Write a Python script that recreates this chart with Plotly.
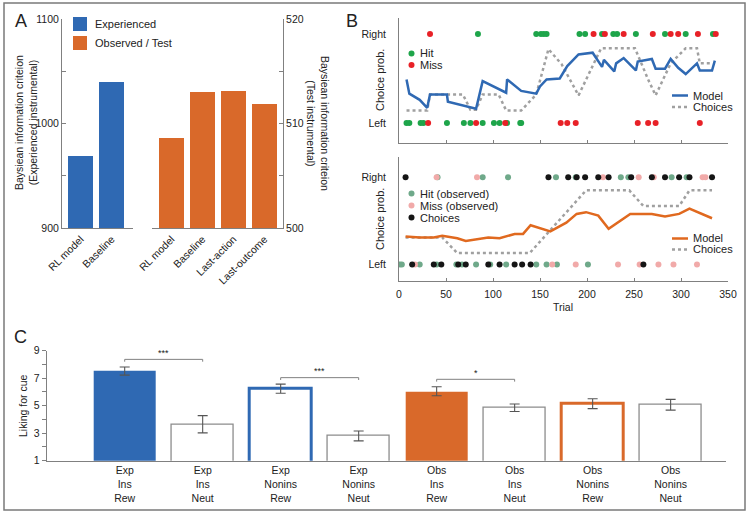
import plotly.graph_objects as go

W, H = 750, 516
FONT = "Liberation Sans, Arial, sans-serif"
TXT = "#222222"
AX = "#808080"
BLUE = "#2f69b3"
ORANGE = "#d9692a"
ORANGE_LINE = "#e0691f"
GREEN = "#1ea54a"
RED = "#e82127"
OBS_GREEN = "#6fa98a"
OBS_PINK = "#f1aaa9"
BLACK = "#151515"
GRAY_DOT = "#a0a0a0"

# ---------------- Panel A data ----------------
a_exp_models = ["RL model", "Baseline"]
a_exp_bic = [969, 1040]
a_obs_models = ["RL model", "Baseline", "Last-action", "Last-outcome"]
a_obs_bic = [508.6, 513.0, 513.1, 511.9]
a_left_ticks = [900, 950, 1000, 1050, 1100]
a_left_ticktext = ["900", "", "1000", "", "1100"]
a_right_ticks = [500, 505, 510, 515, 520]
a_right_ticktext = ["500", "", "510", "", "520"]

# ---------------- Panel B (top, experienced) data ----------------
b_row_labels = ["Left", "Right"]
b_row_values = [0, 1]
b1_hit_right = [84, 146, 151, 154, 157, 192, 198, 216, 228, 232, 252, 283, 305, 334]
b1_miss_right = [33, 207, 219, 239, 270, 289, 297, 318, 337]
b1_hit_left = [8, 11, 23, 26, 51, 69, 76, 89, 101, 107, 115, 129, 130]
b1_miss_left = [31, 82, 113, 172, 179, 188, 254, 265, 273, 320]
b1_model_trial = [8, 11, 22, 30, 33, 51, 52, 82, 89, 114, 115, 130, 146, 150, 157, 171,
                  179, 191, 206, 216, 218, 229, 231, 239, 252, 254, 269, 273, 283, 289,
                  297, 305, 317, 320, 333, 336]
b1_model_p = [0.49, 0.33, 0.26, 0.17, 0.32, 0.32, 0.24, 0.16, 0.47, 0.34, 0.49, 0.36,
              0.33, 0.41, 0.49, 0.50, 0.64, 0.77, 0.79, 0.63, 0.71, 0.58, 0.67, 0.73,
              0.59, 0.69, 0.72, 0.61, 0.61, 0.72, 0.62, 0.55, 0.67, 0.59, 0.59, 0.70]
b1_choice_trial = [8, 30, 33, 68, 76, 82, 89, 106, 114, 130, 146, 159, 173, 191, 215,
                   251, 265, 273, 289, 305, 317, 320, 333]
b1_choice_p = [0.14, 0.14, 0.32, 0.32, 0.15, 0.15, 0.32, 0.32, 0.14, 0.14, 0.32, 0.83,
               0.66, 0.31, 0.84, 0.84, 0.49, 0.31, 0.67, 0.84, 0.84, 0.67, 0.67]

# ---------------- Panel B (bottom, observed) data ----------------
b2_hit_right = [41, 89, 116, 167, 188, 236, 244, 290, 306]
b2_miss_right = [40, 83, 217, 255, 271, 323, 326]
b2_choice_right = [7, 159, 180, 189, 198, 212, 223, 247, 269, 283, 298, 309, 333]
b2_hit_left = [1, 3, 22, 40, 61, 67, 82, 97, 114, 146, 157, 168, 201]
b2_miss_left = [17, 163, 188, 233, 256, 276, 292, 317]
b2_choice_left = [14, 37, 45, 63, 71, 95, 107, 123, 131, 140, 260]
b2_model_trial = [7, 22, 37, 46, 62, 71, 95, 107, 123, 132, 140, 161, 178, 189, 199,
                  212, 223, 246, 269, 283, 298, 309, 333]
b2_model_p = [0.32, 0.31, 0.31, 0.33, 0.30, 0.27, 0.31, 0.30, 0.35, 0.35, 0.45, 0.38,
              0.48, 0.58, 0.60, 0.56, 0.41, 0.58, 0.58, 0.55, 0.58, 0.64, 0.53]
b2_choice_trial = [7, 46, 62, 139, 199, 245, 260, 298, 309, 333]
b2_choice_p = [0.31, 0.31, 0.13, 0.13, 0.85, 0.85, 0.67, 0.67, 0.85, 0.85]
b_trial_ticks = [0, 50, 100, 150, 200, 250, 300, 350]

# ---------------- Panel C data ----------------
c_labels = ["Exp<br>Ins<br>Rew", "Exp<br>Ins<br>Neut", "Exp<br>Nonins<br>Rew",
            "Exp<br>Nonins<br>Neut", "Obs<br>Ins<br>Rew", "Obs<br>Ins<br>Neut",
            "Obs<br>Nonins<br>Rew", "Obs<br>Nonins<br>Neut"]
c_means = [7.52, 3.65, 6.24, 2.80, 6.05, 4.85, 5.15, 5.07]
c_sem = [0.30, 0.63, 0.33, 0.36, 0.33, 0.27, 0.36, 0.39]
c_sig = [(0, 1, "***", 8.37), (2, 3, "***", 7.04), (4, 5, "*", 6.92)]
c_ticks = [1, 2, 3, 4, 5, 6, 7, 8, 9]
c_ticktext = ["1", "", "3", "", "5", "", "7", "", "9"]


def dxp(a, b):
    return [a / W, b / W]


def dyp(top, bottom):
    return [1 - bottom / H, 1 - top / H]


def px(x):
    return x / W


def py(y):
    return 1 - y / H


fig = go.Figure()

# ---- Panel A bars ----
fig.add_trace(go.Bar(x=list(range(len(a_exp_bic))), y=a_exp_bic, width=0.8,
                     marker=dict(color=BLUE, line=dict(width=0)),
                     xaxis="x", yaxis="y", showlegend=False))
fig.add_trace(go.Bar(x=list(range(len(a_obs_bic))), y=a_obs_bic, width=0.8,
                     marker=dict(color=ORANGE, line=dict(width=0)),
                     xaxis="x2", yaxis="y2", showlegend=False))

# ---- Panel B top ----
def dots(xs, row, color, xa, ya):
    return go.Scatter(x=xs, y=[row] * len(xs), mode="markers",
                      marker=dict(size=6, color=color), xaxis=xa, yaxis=ya,
                      showlegend=False, hoverinfo="skip")

fig.add_trace(dots(b1_hit_right, 1, GREEN, "x3", "y3"))
fig.add_trace(dots(b1_miss_right, 1, RED, "x3", "y3"))
fig.add_trace(dots(b1_hit_left, 0, GREEN, "x3", "y3"))
fig.add_trace(dots(b1_miss_left, 0, RED, "x3", "y3"))
fig.add_trace(go.Scatter(x=b1_choice_trial, y=b1_choice_p, mode="lines",
                         line=dict(color=GRAY_DOT, width=2.5, dash="dot"),
                         xaxis="x3", yaxis="y3", showlegend=False))
fig.add_trace(go.Scatter(x=b1_model_trial, y=b1_model_p, mode="lines",
                         line=dict(color=BLUE, width=2.5),
                         xaxis="x3", yaxis="y3", showlegend=False))

# ---- Panel B bottom ----
fig.add_trace(dots(b2_hit_right, 1, OBS_GREEN, "x4", "y4"))
fig.add_trace(dots(b2_miss_right, 1, OBS_PINK, "x4", "y4"))
fig.add_trace(dots(b2_hit_left, 0, OBS_GREEN, "x4", "y4"))
fig.add_trace(dots(b2_miss_left, 0, OBS_PINK, "x4", "y4"))
fig.add_trace(dots(b2_choice_right, 1, BLACK, "x4", "y4"))
fig.add_trace(dots(b2_choice_left, 0, BLACK, "x4", "y4"))
fig.add_trace(go.Scatter(x=b2_choice_trial, y=b2_choice_p, mode="lines",
                         line=dict(color=GRAY_DOT, width=2.5, dash="dot"),
                         xaxis="x4", yaxis="y4", showlegend=False))
fig.add_trace(go.Scatter(x=b2_model_trial, y=b2_model_p, mode="lines",
                         line=dict(color=ORANGE_LINE, width=2.5),
                         xaxis="x4", yaxis="y4", showlegend=False))

# ---- Panel C bars ----
c_fill = [BLUE, "white", "white", "white", ORANGE, "white", "white", "white"]
c_edge = [BLUE, "#8c8c8c", BLUE, "#8c8c8c", ORANGE, "#8c8c8c", ORANGE, "#8c8c8c"]
c_edgew = [0, 1.3, 3, 1.3, 0, 1.3, 3, 1.3]
fig.add_trace(go.Bar(x=list(range(len(c_means))), y=c_means, base=0, width=0.8,
                     marker=dict(color=c_fill, line=dict(color=c_edge, width=c_edgew)),
                     error_y=dict(type="data", array=c_sem, color="#555555",
                                  thickness=1.1, width=5),
                     xaxis="x5", yaxis="y5", showlegend=False))
for i, j, lab, h in c_sig:
    fig.add_trace(go.Scatter(x=[i, i, j, j], y=[h - 0.17, h, h, h - 0.17], mode="lines",
                             line=dict(color="#808080", width=1),
                             xaxis="x5", yaxis="y5", showlegend=False, hoverinfo="skip"))

# ---------------- Layout ----------------
base_axis = dict(showgrid=False, zeroline=False, showline=True, linecolor=AX,
                 linewidth=1, tickcolor=AX, automargin=False,
                 tickfont=dict(size=10.5, color=TXT, family=FONT))

layout = dict(
    width=W, height=H, margin=dict(l=0, r=0, t=0, b=0, pad=0, autoexpand=False),
    paper_bgcolor="white", plot_bgcolor="rgba(0,0,0,0)",
    font=dict(family=FONT, size=10.5, color=TXT),
    showlegend=False, bargap=0,
)

layout["xaxis"] = dict(base_axis, domain=dxp(62, 133), range=[-0.6, 1.69], anchor="y",
                       tickvals=list(range(len(a_exp_models))), ticktext=a_exp_models,
                       tickangle=-45, ticks="")
layout["yaxis"] = dict(base_axis, domain=dyp(19, 228), range=[900, 1100], anchor="x",
                       tickvals=a_left_ticks, ticktext=a_left_ticktext,
                       ticks="inside", ticklen=4)
layout["xaxis2"] = dict(base_axis, domain=dxp(152, 283), range=[-0.63, 3.6], anchor="y2",
                        tickvals=list(range(len(a_obs_models))), ticktext=a_obs_models,
                        tickangle=-45, ticks="")
layout["yaxis2"] = dict(base_axis, domain=dyp(19, 228), range=[500, 520], anchor="x2",
                        side="right", tickvals=a_right_ticks, ticktext=a_right_ticktext,
                        ticks="inside", ticklen=4)

layout["xaxis3"] = dict(base_axis, domain=dxp(399, 728), range=[0, 350], anchor="y3",
                        tickvals=b_trial_ticks, showticklabels=False,
                        ticks="inside", ticklen=3)
layout["yaxis3"] = dict(base_axis, domain=dyp(18, 143), range=[-0.225, 1.18], anchor="x3",
                        tickvals=b_row_values, ticktext=b_row_labels, ticks="",
                        ticklabelstandoff=10)
layout["xaxis4"] = dict(base_axis, domain=dxp(399, 728), range=[0, 350], anchor="y4",
                        tickvals=b_trial_ticks, ticks="inside", ticklen=3,
                        ticklabelstandoff=3)
layout["yaxis4"] = dict(base_axis, domain=dyp(157, 281), range=[-0.19, 1.233], anchor="x4",
                        tickvals=b_row_values, ticktext=b_row_labels, ticks="",
                        ticklabelstandoff=10)

layout["xaxis5"] = dict(base_axis, domain=dxp(46.7, 726), range=[-1, 7.71], anchor="y5",
                        tickvals=list(range(len(c_labels))), ticktext=c_labels, ticks="")
layout["yaxis5"] = dict(base_axis, domain=dyp(350.7, 460.7), range=[1, 9], anchor="x5",
                        tickvals=c_ticks, ticktext=c_ticktext, ticks="outside", ticklen=4)

shapes = []
annotations = []

# outer border
shapes.append(dict(type="rect", xref="paper", yref="paper", x0=px(4), x1=px(745),
                   y0=py(510), y1=py(3), line=dict(color="#7a7a7a", width=1.5)))


def ann(x, y, text, size=10.5, xanchor="left", yanchor="middle", angle=0, color=TXT):
    annotations.append(dict(x=px(x), y=py(y), xref="paper", yref="paper", text=text,
                            showarrow=False, xanchor=xanchor, yanchor=yanchor,
                            textangle=angle, font=dict(size=size, color=color, family=FONT)))


# panel letters
ann(21, 21, "A", size=18, xanchor="center")
ann(352, 21, "B", size=18, xanchor="center")
ann(20, 337, "C", size=18, xanchor="center")

# Panel A axis titles
ann(26, 123, "Baysiean information criteion<br>(Experienced instrumental)",
    xanchor="center", angle=-90)
ann(318, 123, "Baysiean information criteion<br>(Test instrumental)",
    xanchor="center", angle=90)

# Panel A legend
for (y0, y1, col, lab) in [(17, 31, BLUE, "Experienced"), (36, 50, ORANGE, "Observed / Test")]:
    shapes.append(dict(type="rect", xref="paper", yref="paper", x0=px(73), x1=px(87),
                       y0=py(y1), y1=py(y0), fillcolor=col, line=dict(width=0)))
    ann(93, (y0 + y1) / 2, lab, size=11)

# Panel B titles
ann(380, 80, "Choice prob.", xanchor="center", angle=-90, size=11)
ann(380, 219, "Choice prob.", xanchor="center", angle=-90, size=11)
ann(563, 307, "Trial", xanchor="center", size=10.5)


def dot_legend(cx, cy, col, lab):
    shapes.append(dict(type="circle", xref="paper", yref="paper", x0=px(cx - 3), x1=px(cx + 3),
                       y0=py(cy + 3), y1=py(cy - 3), fillcolor=col, line=dict(width=0)))
    ann(cx + 6, cy, lab, size=11)


def line_legend(x0, x1, cy, col, dash, lab):
    shapes.append(dict(type="line", xref="paper", yref="paper", x0=px(x0), x1=px(x1),
                       y0=py(cy), y1=py(cy), line=dict(color=col, width=2.5, dash=dash)))
    ann(x1 + 3, cy, lab, size=11)


dot_legend(411.5, 53.5, GREEN, "Hit")
dot_legend(411.5, 65, RED, "Miss")
line_legend(672, 688, 95.5, BLUE, "solid", "Model")
line_legend(672, 688, 107, GRAY_DOT, "dot", "Choices")

dot_legend(411.5, 193.5, OBS_GREEN, "Hit (observed)")
dot_legend(411.5, 205.5, OBS_PINK, "Miss (observed)")
dot_legend(411.5, 217.5, BLACK, "Choices")
line_legend(672, 688, 238.5, ORANGE_LINE, "solid", "Model")
line_legend(672, 688, 249.5, GRAY_DOT, "dot", "Choices")

# Panel C title and significance labels
ann(23, 406, "Liking for cue", xanchor="center", angle=-90)
for i, j, lab, h in c_sig:
    annotations.append(dict(x=(i + j) / 2, y=h + 0.45, xref="x5", yref="y5", text=lab,
                            showarrow=False, xanchor="center", yanchor="middle",
                            font=dict(size=9, color=TXT, family=FONT)))

layout["shapes"] = shapes
layout["annotations"] = annotations
fig.update_layout(**layout)
fig.write_html("out.html", config={"displayModeBar": False},
               post_script="document.body.style.margin='0';document.body.style.padding='0';"
                           "document.documentElement.style.overflow='hidden';")
